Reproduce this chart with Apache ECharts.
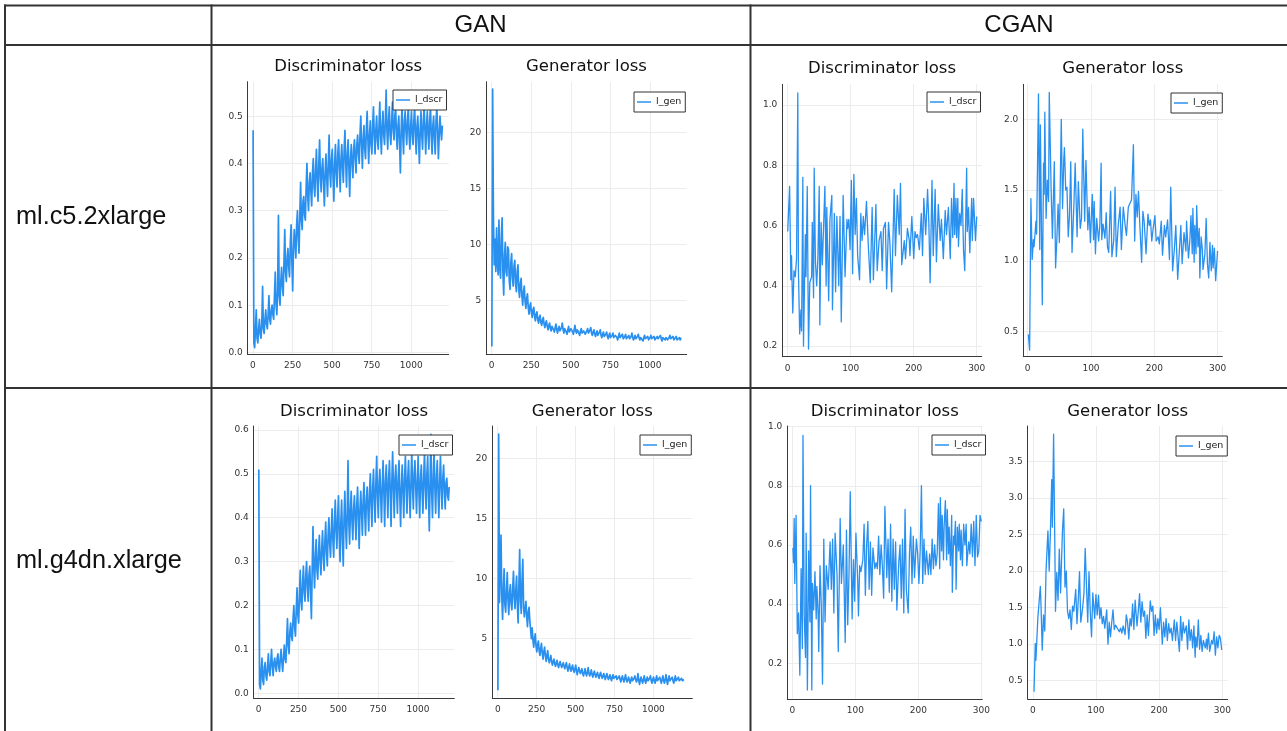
<!DOCTYPE html>
<html><head><meta charset="utf-8">
<script src="https://cdn.jsdelivr.net/npm/echarts@6/dist/echarts.min.js"></script>
<style>html,body{margin:0;padding:0;background:#fff}#c{width:1287px;height:731px}</style>
</head><body><div id="c"></div>
<script>
// ---- table labels ----
var columnHeaders = ['GAN', 'CGAN'];
var rowHeaders = ['ml.c5.2xlarge', 'ml.g4dn.xlarge'];
var plotTitles = ['Discriminator loss', 'Generator loss'];
var legendNames = ['l_dscr', 'l_gen'];

// ---- tick labels ----
var ganXTicks = [0, 250, 500, 750, 1000];
var cganXTicks = [0, 100, 200, 300];
var ganDiscC5Ticks = [0, 0.1, 0.2, 0.3, 0.4, 0.5];
var ganGenTicks = [5, 10, 15, 20];
var cganDiscTicks = [0.2, 0.4, 0.6, 0.8, 1.0];
var cganGenC5Ticks = [0.5, 1.0, 1.5, 2.0];
var ganDiscG4Ticks = [0, 0.1, 0.2, 0.3, 0.4, 0.5, 0.6];
var cganGenG4Ticks = [0.5, 1.0, 1.5, 2.0, 2.5, 3.0, 3.5];

// ---- GAN series: one reading every 5 epochs (epoch 1, 6, 11, ...) ----
var ganEpochStep = 5;
var ganDiscC5 = [
0.47,0.02,0.01,0.05,0.09,0.03,0.02,0.05,0.07,0.04,0.03,0.06,0.14,0.05,0.04,0.07,0.09,0.06,0.05,0.08,
0.12,0.07,0.06,0.09,0.10,0.08,0.07,0.12,0.17,0.10,0.08,0.13,0.29,0.12,0.10,0.15,0.18,0.14,0.12,0.19,
0.26,0.17,0.15,0.20,0.22,0.18,0.16,0.23,0.27,0.19,0.13,0.22,0.26,0.23,0.20,0.27,0.30,0.24,0.21,0.29,
0.36,0.28,0.26,0.32,0.33,0.29,0.28,0.35,0.40,0.33,0.30,0.36,0.38,0.34,0.31,0.38,0.41,0.35,0.33,0.39,
0.43,0.36,0.32,0.40,0.45,0.37,0.34,0.39,0.41,0.36,0.31,0.38,0.42,0.37,0.33,0.40,0.46,0.38,0.35,0.41,
0.43,0.37,0.32,0.40,0.44,0.38,0.35,0.42,0.45,0.39,0.34,0.41,0.44,0.39,0.36,0.43,0.47,0.40,0.35,0.42,
0.45,0.39,0.33,0.41,0.44,0.40,0.37,0.43,0.45,0.41,0.38,0.44,0.46,0.42,0.40,0.46,0.50,0.44,0.39,0.45,
0.48,0.43,0.41,0.47,0.51,0.45,0.40,0.46,0.49,0.44,0.42,0.48,0.52,0.46,0.42,0.47,0.50,0.45,0.43,0.48,
0.53,0.46,0.42,0.48,0.51,0.46,0.44,0.49,0.555,0.47,0.43,0.49,0.52,0.46,0.44,0.49,0.53,0.47,0.45,0.50,
0.52,0.46,0.43,0.48,0.50,0.44,0.38,0.47,0.52,0.46,0.42,0.49,0.51,0.47,0.44,0.49,0.52,0.46,0.43,0.48,
0.51,0.46,0.44,0.49,0.52,0.46,0.42,0.48,0.50,0.45,0.40,0.47,0.51,0.46,0.43,0.49,0.52,0.47,0.42,0.48,
0.51,0.46,0.43,0.49,0.52,0.46,0.42,0.48,0.50,0.45,0.42,0.49,0.52,0.47,0.41,0.46,0.50,0.47,0.45,0.48];
var ganGenC5 = [
0.9,23.9,12.5,8.2,10.5,7.6,11.5,8.4,7.3,12.2,8.0,7.0,10.8,12.4,7.5,5.5,9.0,10.2,7.6,7.2,
9.8,9.6,6.8,6.0,8.4,9.2,7.0,6.3,8.1,8.6,6.5,5.8,7.6,8.2,6.0,5.3,6.5,7.0,5.4,4.6,
5.8,6.3,4.9,4.3,5.2,5.6,4.4,3.8,4.5,4.8,3.9,3.5,4.2,4.4,3.6,3.2,3.8,4.0,3.3,3.0,
3.5,3.7,3.0,2.8,3.3,3.5,2.9,2.6,3.0,3.2,2.7,2.4,2.8,3.0,2.5,2.3,2.7,2.8,2.4,2.2,
2.6,2.9,2.4,2.1,2.5,2.7,2.3,2.2,2.6,3.0,2.4,2.1,2.5,2.6,2.2,2.0,2.4,2.7,2.2,2.1,
2.5,2.6,2.2,2.0,2.4,2.8,2.3,2.1,2.4,2.5,2.1,1.9,2.3,2.5,2.1,2.0,2.3,2.4,2.0,1.9,
2.3,2.5,2.1,2.0,2.4,2.6,2.1,1.9,2.2,2.4,2.0,1.8,2.1,2.3,1.9,1.8,2.2,2.4,1.9,1.7,
2.0,2.2,1.8,1.7,2.0,2.2,1.8,1.6,1.9,2.1,1.7,1.6,1.9,2.1,1.7,1.6,1.9,2.0,1.7,1.5,
1.8,2.1,1.7,1.6,1.8,2.0,1.6,1.5,1.8,2.0,1.6,1.5,1.7,1.9,1.6,1.5,1.8,2.1,1.7,1.5,
1.7,1.9,1.6,1.6,1.8,2.0,1.7,1.5,1.7,1.8,1.6,1.4,1.7,1.9,1.6,1.5,1.7,1.8,1.5,1.4,
1.7,1.9,1.6,1.5,1.7,1.8,1.5,1.4,1.6,1.8,1.6,1.5,1.7,1.9,1.6,1.4,1.7,1.8,1.6,1.5,
1.7,1.8,1.5,1.4,1.7,1.9,1.6,1.5,1.7,1.8,1.5,1.4,1.6,1.8,1.5,1.4,1.6,1.7,1.5,1.7];
var ganDiscG4 = [
0.51,0.02,0.01,0.05,0.08,0.03,0.02,0.06,0.07,0.04,0.03,0.06,0.09,0.05,0.04,0.07,0.10,0.06,0.04,0.07,
0.08,0.06,0.05,0.08,0.09,0.06,0.05,0.08,0.10,0.07,0.05,0.08,0.11,0.08,0.07,0.12,0.17,0.11,0.09,0.14,
0.16,0.13,0.12,0.17,0.20,0.15,0.13,0.19,0.24,0.18,0.16,0.22,0.28,0.21,0.19,0.25,0.29,0.23,0.21,0.27,
0.30,0.24,0.21,0.27,0.29,0.23,0.17,0.28,0.38,0.29,0.24,0.31,0.35,0.28,0.26,0.32,0.36,0.30,0.27,0.33,
0.37,0.31,0.28,0.35,0.39,0.32,0.29,0.36,0.40,0.34,0.31,0.37,0.42,0.35,0.31,0.39,0.44,0.37,0.33,0.40,
0.45,0.36,0.30,0.39,0.44,0.35,0.29,0.40,0.46,0.38,0.33,0.41,0.53,0.39,0.34,0.42,0.46,0.39,0.35,0.42,
0.45,0.40,0.35,0.43,0.47,0.40,0.33,0.42,0.46,0.41,0.36,0.44,0.48,0.41,0.36,0.44,0.47,0.42,0.37,0.46,
0.50,0.43,0.38,0.47,0.51,0.44,0.39,0.48,0.54,0.45,0.40,0.48,0.51,0.45,0.39,0.47,0.53,0.46,0.38,0.48,
0.52,0.46,0.40,0.49,0.53,0.46,0.38,0.48,0.55,0.47,0.40,0.49,0.52,0.46,0.41,0.49,0.53,0.45,0.38,0.47,
0.52,0.46,0.40,0.49,0.54,0.47,0.41,0.49,0.53,0.46,0.40,0.48,0.55,0.47,0.42,0.50,0.53,0.47,0.41,0.48,
0.54,0.46,0.40,0.49,0.52,0.46,0.41,0.49,0.55,0.47,0.42,0.50,0.54,0.45,0.37,0.48,0.59,0.46,0.40,0.49,
0.55,0.47,0.41,0.49,0.53,0.46,0.40,0.48,0.54,0.47,0.42,0.49,0.52,0.46,0.42,0.48,0.49,0.45,0.44,0.47];
var ganGenG4 = [
0.7,22.0,8.0,10.5,13.6,8.5,6.6,9.0,10.8,7.8,7.2,9.0,10.5,8.2,7.0,8.8,9.5,7.9,7.4,9.1,
10.6,8.4,7.5,9.0,10.2,7.8,6.3,9.5,12.4,8.2,7.1,9.8,11.6,7.6,6.8,7.5,8.1,6.9,6.0,7.2,
7.6,6.5,5.8,5.0,5.9,4.9,4.3,5.0,5.4,4.4,3.9,4.5,4.8,4.0,3.6,4.2,4.6,3.8,3.3,3.9,
4.3,3.6,3.1,3.6,4.0,3.3,3.0,3.3,3.6,3.1,2.8,3.1,3.3,2.9,2.7,3.0,3.2,2.8,2.6,2.9,
3.1,2.8,2.6,2.8,3.0,2.7,2.5,2.8,3.0,2.6,2.3,2.6,2.9,2.5,2.3,2.6,2.8,2.4,2.2,2.5,
2.8,2.3,2.0,2.4,2.6,2.3,2.1,2.3,2.5,2.1,1.9,2.2,2.5,2.1,1.9,2.2,2.6,2.1,1.9,2.1,
2.4,2.0,1.8,2.1,2.3,2.0,1.8,2.0,2.2,1.9,1.7,2.0,2.2,1.9,1.7,1.9,2.1,1.8,1.6,1.9,
2.1,1.8,1.6,1.8,2.0,1.7,1.5,1.8,2.0,1.7,1.6,1.8,1.9,1.6,1.5,1.7,1.9,1.6,1.4,1.7,
1.9,1.6,1.4,1.7,2.0,1.6,1.4,1.6,1.8,1.5,1.3,1.6,1.8,1.5,1.4,1.7,1.9,1.6,1.4,1.6,
2.1,1.5,1.2,1.6,1.8,1.5,1.3,1.6,1.9,1.5,1.3,1.6,1.8,1.5,1.4,1.7,1.9,1.5,1.3,1.6,
1.8,1.5,1.3,1.6,1.9,1.5,1.4,1.6,1.8,1.5,1.3,1.6,1.9,1.5,1.3,1.6,2.0,1.5,1.2,1.6,
1.9,1.5,1.4,1.6,1.8,1.5,1.3,1.6,1.9,1.5,1.4,1.6,1.8,1.5,1.4,1.6,1.7,1.5,1.5,1.6];

// ---- CGAN series: [epoch, loss] readings ----
var cganDiscC5 = [[0,0.58],[3,0.73],[5,0.42],[6,0.50],[8,0.31],[10,0.45],[12,0.43],[13,0.46],[14,0.49],[16,1.04],[17,0.45],[19,0.24],[21,0.32],[22,0.25],[24,0.76],[25,0.20],[28,0.57],[29,0.43],[31,0.73],[33,0.19],[35,0.41],[38,0.43],[39,0.61],[41,0.36],[42,0.79],[44,0.48],[46,0.40],[48,0.50],[50,0.73],[51,0.27],[53,0.61],[55,0.47],[59,0.73],[61,0.40],[62,0.66],[65,0.35],[67,0.62],[70,0.70],[71,0.32],[74,0.64],[76,0.38],[78,0.63],[81,0.40],[83,0.63],[85,0.28],[88,0.70],[91,0.43],[94,0.62],[95,0.59],[97,0.62],[99,0.52],[101,0.75],[103,0.44],[105,0.77],[107,0.57],[109,0.69],[111,0.50],[114,0.42],[116,0.64],[118,0.55],[120,0.63],[122,0.57],[125,0.68],[128,0.53],[131,0.41],[134,0.66],[136,0.42],[140,0.67],[142,0.45],[145,0.55],[148,0.58],[150,0.45],[152,0.59],[155,0.61],[157,0.39],[160,0.61],[162,0.55],[165,0.38],[169,0.72],[171,0.50],[174,0.70],[177,0.57],[179,0.74],[181,0.47],[185,0.55],[187,0.49],[190,0.59],[193,0.55],[194,0.50],[197,0.63],[200,0.49],[202,0.58],[204,0.56],[206,0.57],[209,0.52],[212,0.64],[214,0.50],[216,0.69],[219,0.57],[222,0.72],[224,0.61],[226,0.41],[229,0.75],[231,0.50],[234,0.72],[236,0.48],[239,0.67],[242,0.55],[244,0.62],[247,0.49],[250,0.65],[252,0.57],[255,0.66],[258,0.49],[260,0.69],[262,0.56],[264,0.74],[265,0.57],[267,0.69],[268,0.56],[270,0.69],[271,0.53],[273,0.64],[275,0.60],[277,0.72],[279,0.52],[281,0.45],[284,0.79],[285,0.58],[287,0.66],[289,0.51],[292,0.69],[293,0.55],[295,0.69],[298,0.55],[300,0.63]];
var cganGenC5 = [[1,0.48],[3,0.37],[5,1.44],[7,1.01],[9,1.15],[10,1.10],[13,1.28],[14,1.19],[17,2.18],[19,1.08],[20,1.96],[23,0.69],[25,1.69],[26,1.47],[27,2.05],[29,1.30],[31,1.57],[33,1.42],[34,2.19],[37,1.50],[39,1.16],[42,1.70],[44,0.95],[46,1.15],[48,1.40],[50,1.13],[53,2.00],[55,1.37],[57,1.72],[58,1.80],[60,1.50],[62,1.52],[64,1.17],[66,1.32],[68,1.70],[70,1.06],[73,1.40],[75,1.69],[78,1.17],[80,1.56],[83,1.23],[85,1.30],[87,1.93],[90,1.28],[92,1.71],[95,1.22],[97,1.38],[99,1.13],[102,1.47],[104,1.15],[105,1.42],[107,1.05],[109,1.30],[112,1.14],[114,1.25],[116,1.69],[117,1.15],[119,1.26],[122,1.16],[124,1.34],[126,1.10],[128,1.06],[131,1.49],[133,1.03],[136,1.15],[138,1.52],[140,1.03],[143,1.25],[146,1.38],[148,1.08],[151,1.38],[154,1.25],[156,1.18],[159,1.38],[162,1.41],[164,1.43],[167,1.82],[169,1.14],[171,1.47],[173,1.31],[175,1.49],[177,1.27],[180,0.99],[182,1.35],[184,1.28],[187,1.05],[190,1.33],[192,1.25],[194,1.29],[196,1.14],[198,1.22],[201,1.32],[203,1.14],[206,1.17],[208,1.12],[211,1.28],[213,1.04],[216,1.25],[218,1.17],[221,1.29],[224,1.01],[226,1.52],[229,0.93],[232,1.10],[234,1.25],[237,0.87],[240,1.10],[242,1.25],[244,0.98],[247,1.20],[250,1.07],[251,1.28],[254,1.02],[256,1.13],[258,1.32],[260,1.05],[261,1.37],[263,0.99],[264,1.25],[266,1.05],[267,1.39],[269,1.10],[271,1.23],[272,0.88],[274,1.17],[276,1.08],[277,0.94],[280,1.05],[282,1.30],[284,0.98],[286,0.88],[288,1.13],[290,0.93],[292,1.11],[293,0.95],[295,1.09],[297,0.86],[300,1.07]];
var cganDiscG4 = [[1,0.59],[2,0.54],[3,0.69],[4,0.47],[6,0.70],[8,0.30],[10,0.37],[12,0.16],[14,0.52],[16,0.25],[17,0.97],[19,0.36],[21,0.22],[22,0.64],[24,0.11],[26,0.58],[28,0.34],[29,0.80],[31,0.11],[32,0.47],[34,0.38],[36,0.51],[38,0.35],[39,0.46],[41,0.37],[42,0.24],[44,0.53],[46,0.40],[48,0.13],[50,0.62],[52,0.34],[54,0.53],[57,0.45],[60,0.61],[62,0.45],[64,0.62],[66,0.37],[68,0.64],[71,0.50],[73,0.24],[76,0.69],[78,0.47],[81,0.60],[84,0.27],[86,0.65],[88,0.33],[90,0.50],[92,0.78],[95,0.35],[97,0.55],[99,0.41],[101,0.64],[104,0.47],[105,0.36],[107,0.53],[109,0.51],[112,0.55],[114,0.67],[116,0.43],[118,0.60],[120,0.68],[122,0.45],[124,0.61],[126,0.43],[128,0.59],[131,0.52],[133,0.54],[135,0.52],[137,0.63],[139,0.50],[141,0.60],[143,0.53],[145,0.42],[147,0.73],[150,0.49],[152,0.62],[154,0.44],[156,0.67],[158,0.41],[160,0.62],[162,0.45],[164,0.61],[166,0.38],[169,0.54],[171,0.60],[173,0.42],[175,0.62],[177,0.37],[179,0.72],[181,0.45],[184,0.37],[186,0.57],[188,0.66],[190,0.47],[192,0.63],[194,0.49],[197,0.62],[199,0.57],[201,0.47],[203,0.58],[205,0.80],[207,0.47],[209,0.62],[211,0.50],[213,0.58],[216,0.50],[218,0.57],[220,0.50],[222,0.62],[224,0.52],[226,0.60],[228,0.53],[230,0.57],[232,0.74],[234,0.52],[235,0.76],[237,0.58],[238,0.70],[240,0.55],[241,0.66],[243,0.75],[245,0.55],[246,0.72],[248,0.57],[249,0.66],[251,0.53],[253,0.70],[254,0.44],[256,0.63],[257,0.60],[259,0.68],[260,0.45],[262,0.66],[264,0.58],[265,0.67],[267,0.55],[268,0.65],[270,0.53],[272,0.67],[274,0.60],[276,0.67],[277,0.53],[280,0.61],[282,0.57],[284,0.67],[286,0.56],[288,0.68],[290,0.53],[292,0.70],[294,0.56],[296,0.58],[298,0.70],[300,0.68]];
var cganGenG4 = [[2,0.35],[4,1.01],[5,0.78],[8,1.35],[12,1.79],[13,1.55],[15,0.92],[17,1.40],[19,1.18],[21,2.00],[24,2.55],[26,2.00],[28,2.55],[30,3.25],[31,2.60],[33,3.87],[35,2.30],[36,1.45],[38,1.98],[40,1.60],[42,2.30],[44,1.70],[47,2.55],[49,2.85],[51,1.78],[53,2.00],[55,1.45],[57,1.35],[59,1.47],[61,1.20],[63,1.52],[65,1.45],[68,1.75],[70,1.28],[72,1.60],[74,1.99],[76,1.30],[79,1.50],[81,1.70],[83,2.31],[85,1.80],[87,1.30],[89,1.99],[91,1.45],[93,1.10],[95,1.70],[98,1.35],[100,1.68],[102,1.40],[104,1.67],[106,1.35],[108,1.50],[110,1.28],[112,1.38],[114,1.22],[117,1.47],[119,1.00],[121,1.30],[123,1.10],[125,1.30],[127,1.47],[129,1.20],[131,1.26],[134,1.24],[137,1.17],[139,1.22],[141,1.15],[143,1.25],[146,1.13],[148,1.40],[150,1.30],[152,1.07],[154,1.35],[156,1.25],[158,1.55],[160,1.20],[162,1.60],[165,1.25],[167,1.45],[169,1.69],[171,1.30],[173,1.58],[175,1.38],[177,1.45],[179,1.08],[181,1.40],[183,1.12],[186,1.59],[188,1.45],[190,1.52],[192,1.12],[194,1.40],[196,1.15],[198,1.35],[200,1.20],[202,1.50],[205,1.00],[207,1.30],[209,1.10],[211,1.35],[213,1.05],[215,1.28],[217,1.15],[219,1.22],[221,1.05],[224,1.33],[226,1.05],[228,1.30],[230,1.10],[232,0.90],[234,1.38],[236,1.05],[238,1.30],[240,1.15],[243,1.25],[245,0.93],[247,1.33],[249,1.05],[251,1.20],[253,0.95],[255,1.25],[257,0.82],[258,1.10],[260,0.96],[262,1.33],[264,0.93],[266,1.12],[268,0.90],[270,1.05],[273,0.95],[275,1.07],[276,0.93],[278,1.15],[280,0.90],[283,1.05],[285,1.00],[287,1.17],[289,0.85],[291,1.10],[293,0.95],[295,1.12],[297,1.08],[299,0.92]];

// ---------------- build chart ----------------
function ganPairs(vals){ return vals.map(function(v,i){ return [1 + ganEpochStep*i, v]; }); }

var LINE = '#2990f0';
var FONT = 'DejaVu Sans';
var TICK_FS = 9;

var panels = [
  {box:[247.7,81.7,448.7,354.3], x:[-33,1236], y:[-0.004,0.573], xt:ganXTicks, yt:ganDiscC5Ticks, dec:1, data:ganPairs(ganDiscC5), lw:1.7, name:legendNames[0], title:plotTitles[0], ty:67, leg:[393,90]},
  {box:[486.3,81.7,686.7,354.3], x:[-34,1232], y:[0.21,24.55], xt:ganXTicks, yt:ganGenTicks, dec:0, data:ganPairs(ganGenC5), lw:1.7, name:legendNames[1], title:plotTitles[1], ty:67, leg:[634,92]},
  {box:[782.3,84.3,981.7,356.7], x:[-8.6,307.9], y:[0.1645,1.0687], xt:cganXTicks, yt:cganDiscTicks, dec:1, data:cganDiscC5, lw:1.3, name:legendNames[0], title:plotTitles[0], ty:69, leg:[927,92]},
  {box:[1023.3,84.3,1222.3,356.7], x:[-7,307.5], y:[0.3234,2.247], xt:cganXTicks, yt:cganGenC5Ticks, dec:1, data:cganGenC5, lw:1.3, name:legendNames[1], title:plotTitles[1], ty:69, leg:[1171,93]},
  {box:[253.7,426,454.3,698.3], x:[-31,1228], y:[-0.0114,0.609], xt:ganXTicks, yt:ganDiscG4Ticks, dec:1, data:ganPairs(ganDiscG4), lw:1.7, name:legendNames[0], title:plotTitles[0], ty:411.5, leg:[399,435]},
  {box:[492.3,426,692.3,698.3], x:[-35,1250], y:[0.04,22.68], xt:ganXTicks, yt:ganGenTicks, dec:0, data:ganPairs(ganGenG4), lw:1.7, name:legendNames[1], title:plotTitles[1], ty:411.5, leg:[640,435]},
  {box:[787.3,426,982.3,699], x:[-7.9,301.6], y:[0.0794,1.002], xt:cganXTicks, yt:cganDiscTicks, dec:1, data:cganDiscG4, lw:1.3, name:legendNames[0], title:plotTitles[0], ty:411.5, leg:[932,435]},
  {box:[1027.7,426,1227.7,699], x:[-8,308.5], y:[0.25,3.983], xt:cganXTicks, yt:cganGenG4Ticks, dec:1, data:cganGenG4, lw:1.3, name:legendNames[1], title:plotTitles[1], ty:412, leg:[1176,436]}
];

var grids=[], xAxes=[], yAxes=[], series=[], legends=[], graphics=[];
panels.forEach(function(p,i){
  grids.push({left:p.box[0], top:p.box[1], width:p.box[2]-p.box[0], height:p.box[3]-p.box[1], containLabel:false});
  var axisLine = {show:true, onZero:false, lineStyle:{color:'#3a3a3a', width:1}};
  var splitLine = {show:true, lineStyle:{color:'#ececec', width:1}};
  xAxes.push({
    type:'value', gridIndex:i, min:p.x[0], max:p.x[1],
    axisLine:axisLine, splitLine:splitLine,
    axisTick:{show:false, customValues:p.xt},
    axisLabel:{customValues:p.xt, color:'#333', fontFamily:FONT, fontSize:TICK_FS, margin:7,
      formatter:function(v){return String(Math.round(v));}}
  });
  var dec = p.dec;
  yAxes.push({
    type:'value', gridIndex:i, min:p.y[0], max:p.y[1],
    axisLine:axisLine, splitLine:splitLine,
    axisTick:{show:false, customValues:p.yt},
    axisLabel:{customValues:p.yt, color:'#333', fontFamily:FONT, fontSize:TICK_FS, margin:5,
      formatter:function(v){return v.toFixed(dec);}}
  });
  series.push({
    type:'line', name:p.name, xAxisIndex:i, yAxisIndex:i, data:p.data,
    symbol:'none', showSymbol:false, clip:true,
    lineStyle:{color:LINE, width:p.lw, join:'round'}, itemStyle:{color:LINE}
  });
  legends.push({
    data:[{name:p.name, icon:'rect'}], left:p.leg[0], top:p.leg[1],
    orient:'vertical', selectedMode:false,
    borderColor:'#333', borderWidth:1, borderRadius:0, backgroundColor:'#fff',
    padding:[5,4,5,3], itemWidth:14, itemHeight:1.5,
    itemStyle:{color:LINE, borderWidth:0},
    textStyle:{fontFamily:FONT, fontSize:9.5, color:'#222'}
  });
  graphics.push({type:'text', x:(p.box[0]+p.box[2])/2, y:p.ty,
    style:{text:p.title, fill:'#111', font:'16.5px "DejaVu Sans"', textAlign:'center', textVerticalAlign:'middle'}});
});

// table lines
var TL = '#333';
function hline(y,x1,x2){ graphics.push({type:'line', shape:{x1:x1,y1:y,x2:x2,y2:y}, style:{stroke:TL, lineWidth:2}, z:100}); }
function vline(x,y1,y2){ graphics.push({type:'line', shape:{x1:x,y1:y1,x2:x,y2:y2}, style:{stroke:TL, lineWidth:2}, z:100}); }
hline(5.5, 4, 1287);
hline(45, 4, 1287);
hline(388, 4, 1287);
vline(5, 4.5, 731);
vline(211.5, 4.5, 731);
vline(750.5, 4.5, 731);

// header & row texts
graphics.push({type:'text', x:480.5, y:25.5, style:{text:columnHeaders[0], fill:'#111', font:'24px "Liberation Sans"', textAlign:'center', textVerticalAlign:'middle'}});
graphics.push({type:'text', x:1019, y:25.5, style:{text:columnHeaders[1], fill:'#111', font:'24px "Liberation Sans"', textAlign:'center', textVerticalAlign:'middle'}});
graphics.push({type:'text', x:16, y:217, style:{text:rowHeaders[0], fill:'#111', font:'25.3px "Liberation Sans"', textAlign:'left', textVerticalAlign:'middle'}});
graphics.push({type:'text', x:16, y:561, style:{text:rowHeaders[1], fill:'#111', font:'25.3px "Liberation Sans"', textAlign:'left', textVerticalAlign:'middle'}});

var chart = echarts.init(document.getElementById('c'), null, {renderer:'canvas'});
chart.setOption({
  animation:false,
  backgroundColor:'#fff',
  grid:grids, xAxis:xAxes, yAxis:yAxes, series:series, legend:legends,
  graphic:{elements:graphics}
});
</script></body></html>
